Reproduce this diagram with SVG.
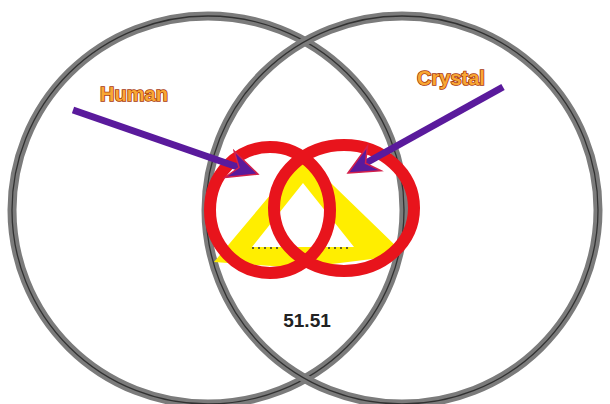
<svg xmlns="http://www.w3.org/2000/svg" width="610" height="404" viewBox="0 0 610 404">
<style>
.ring{fill:none;stroke:#7b7b7b;stroke-width:9}
.ringline{fill:none;stroke:#1a1a1a;stroke-width:1.3;stroke-opacity:0.75}
.red{fill:none;stroke:#e8141c;stroke-width:12}
.arrow{stroke:#5a1a9c;stroke-width:7;fill:none}
.lbl{font-family:"Liberation Sans",Arial,sans-serif;font-weight:bold;font-size:20px;fill:#f8a734;stroke:#a8380e;stroke-width:1.6;paint-order:stroke;text-anchor:middle}
.num{font-family:"Liberation Sans",Arial,sans-serif;font-weight:bold;font-size:19px;fill:#222;text-anchor:middle}
.dots{stroke:#333;stroke-width:1.5;stroke-dasharray:2 4;fill:none}
</style>
<defs>
<marker id="head" markerUnits="userSpaceOnUse" viewBox="-12 -16 34 32" markerWidth="34" markerHeight="32" refX="0" refY="0" orient="auto">
<path d="M20,0 L-10,-14 L0,0 L-10,14 Z" fill="#5a1a9c" stroke="#d4204a" stroke-width="1.5" stroke-linejoin="miter"/>
</marker>
</defs>
<rect width="610" height="404" fill="#fff"/>
<g id="circle-left">
<ellipse class="ring" cx="208" cy="210" rx="196" ry="194"/>
<ellipse class="ringline" cx="208" cy="210" rx="196" ry="194"/>
</g>
<g id="circle-right">
<ellipse class="ring" cx="402" cy="210" rx="196" ry="194"/>
<ellipse class="ringline" cx="402" cy="210" rx="196" ry="194"/>
</g>
<g id="triangle">
<path d="M303,156 L214,262 L300,268 L396,256 L398,248 Z M303,183 L252,247 L354,247 Z" fill="#ffee00" fill-rule="evenodd"/>
<line class="dots" x1="252" y1="248" x2="278" y2="248"/>
<line class="dots" x1="322" y1="248" x2="348" y2="248"/>
</g>
<g id="ring-left">
<ellipse class="red" cx="270" cy="210" rx="60" ry="63"/>
</g>
<g id="ring-right">
<ellipse class="red" cx="344" cy="208" rx="70" ry="63"/>
</g>
<g id="connectors">
<line class="arrow" x1="73" y1="110" x2="239" y2="167.5" marker-end="url(#head)"/>
<line class="arrow" x1="503" y1="87" x2="365.5" y2="163.3" marker-end="url(#head)"/>
</g>
<g id="label-human"><text class="lbl" x="134" y="101">Human</text></g>
<g id="label-crystal"><text class="lbl" x="451" y="85">Crystal</text></g>
<g id="value"><text class="num" x="307" y="327">51.51</text></g>
</svg>
